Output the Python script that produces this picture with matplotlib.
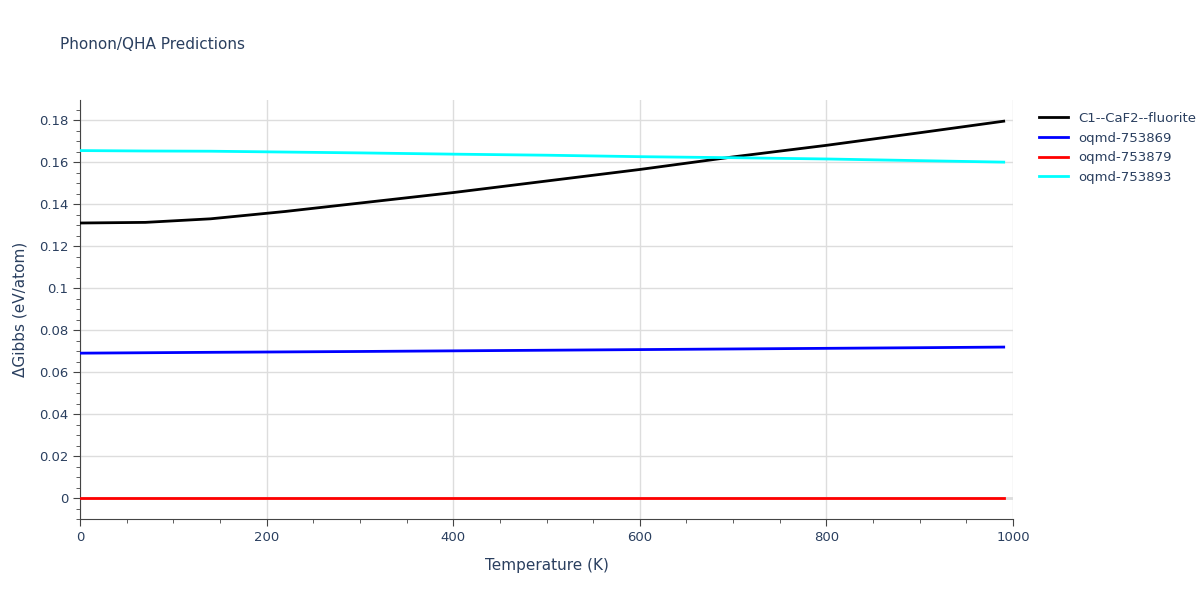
import matplotlib
matplotlib.use("Agg")
import matplotlib.pyplot as plt
import numpy as np
from matplotlib.ticker import MultipleLocator

# ── Data ──────────────────────────────────────────────────────────────────────
temps = [0, 70, 140, 220, 300, 400, 500, 600, 700, 800, 900, 990]
fluorite = [0.131, 0.1313, 0.133, 0.1365, 0.1405, 0.1455, 0.151, 0.1565, 0.1625, 0.168, 0.174, 0.1795]
oqmd_753869 = [0.069, 0.0692, 0.0694, 0.0696, 0.0698, 0.0701, 0.0704, 0.0707, 0.0710, 0.0713, 0.0716, 0.0719]
oqmd_753879 = [0.0] * len(temps)
oqmd_753893 = [0.1655, 0.1653, 0.1652, 0.1648, 0.1644, 0.1638, 0.1633, 0.1626, 0.1621, 0.1615, 0.1607, 0.1600]

SERIES = [
    ("C1--CaF2--fluorite", fluorite, "black"),
    ("oqmd-753869", oqmd_753869, "blue"),
    ("oqmd-753879", oqmd_753879, "red"),
    ("oqmd-753893", oqmd_753893, "cyan"),
]

TXT = "#2a3f5f"

# ── Plot ──────────────────────────────────────────────────────────────────────
fig = plt.figure(figsize=(12, 6), dpi=100)
ax = fig.add_axes([0.0667, 0.135, 0.7775, 0.698])

for label, vals, color in SERIES:
    ax.plot(temps, vals, color=color, linewidth=2, label=label, zorder=3)

ax.set_xlim(0, 1000)
ax.set_ylim(-0.01, 0.1895)
ax.xaxis.set_major_locator(MultipleLocator(200))
ax.xaxis.set_minor_locator(MultipleLocator(50))
ax.yaxis.set_major_locator(MultipleLocator(0.02))
ax.yaxis.set_minor_locator(MultipleLocator(0.005))
ax.set_yticks(np.arange(0, 0.19, 0.02))
ax.set_yticklabels(["0", "0.02", "0.04", "0.06", "0.08", "0.1", "0.12", "0.14", "0.16", "0.18"])

ax.grid(True, which="major", color="#dddddd", linewidth=1, zorder=0)
ax.axhline(0, color="#dddddd", linewidth=2, zorder=1)
for s in ["top", "right"]:
    ax.spines[s].set_visible(False)
for s in ["left", "bottom"]:
    ax.spines[s].set_color("#444444")
ax.tick_params(which="major", direction="out", length=5, color="#444444", labelcolor=TXT, labelsize=9.5)
ax.tick_params(which="minor", direction="out", length=3, color="#444444")

ax.set_xlabel("Temperature (K)", color=TXT, fontsize=11, labelpad=10)
ax.set_ylabel("ΔGibbs (eV/atom)", color=TXT, fontsize=11, labelpad=8)
fig.text(0.05, 0.918, "Phonon/QHA Predictions", color=TXT, fontsize=11)

ax.legend(loc="upper left", bbox_to_anchor=(1.015, 1.0), frameon=False,
          labelcolor=TXT, fontsize=9.5, handlelength=2.2)

fig.savefig("out.png", dpi=100, facecolor="white")
